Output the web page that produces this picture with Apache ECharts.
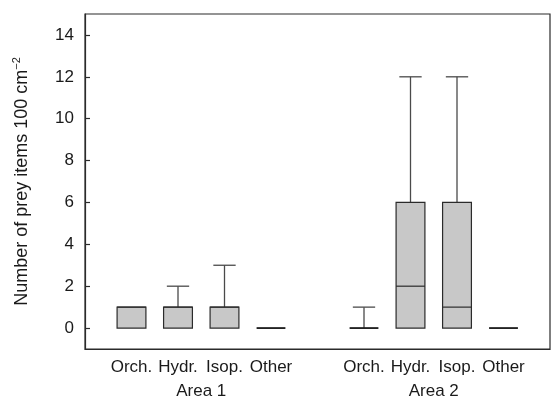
<!DOCTYPE html>
<html>
<head>
<meta charset="utf-8">
<script src="https://cdn.jsdelivr.net/npm/echarts@6/dist/echarts.min.js"></script>
<style>
  html, body { margin: 0; padding: 0; background: #fff; }
  #chart { width: 553px; height: 402px; }
</style>
</head>
<body>
<div id="chart"></div>
<script>
// Prey taxa shown in each sampling area
const taxa = ['Orch.', 'Hydr.', 'Isop.', 'Other'];
const areas = ['Area 1', 'Area 2'];

// Box statistics per taxon: [min, Q1, median, Q3, max]
const area1Stats = [
  [0, 0, 1, 1, 1],
  [0, 0, 1, 1, 2],
  [0, 0, 1, 1, 3],
  [0, 0, 0, 0, 0]
];
const area2Stats = [
  [0, 0, 0, 0, 1],
  [0, 0, 2, 6, 12],
  [0, 0, 1, 6, 12],
  [0, 0, 0, 0, 0]
];

const yTicks = [0, 2, 4, 6, 8, 10, 12, 14];

// Category slots: padding, Area 1 taxa, spacer, Area 2 taxa, padding
const categories = [''].concat(taxa, [''], taxa, ['']);
const areaSlots = ['', areas[0], '', areas[1], ''];

const boxData = [];
area1Stats.forEach((s, i) => boxData.push([1 + i].concat(s)));
area2Stats.forEach((s, i) => boxData.push([6 + i].concat(s)));

const FONT = 'Liberation Sans, Arial, Helvetica, sans-serif';
const STROKE = '#2b2b2b';

function renderBox(params, api) {
  const x = api.value(0);
  const vMin = api.value(1), q1 = api.value(2), med = api.value(3), q3 = api.value(4), vMax = api.value(5);
  const band = api.size([1, 0])[0];
  const boxW = band * 0.62;
  const capW = band * 0.48;
  const pMin = api.coord([x, vMin]);
  const pQ1 = api.coord([x, q1]);
  const pMed = api.coord([x, med]);
  const pQ3 = api.coord([x, q3]);
  const pMax = api.coord([x, vMax]);
  const cx = pMed[0];
  const children = [];
  const lineStyle = { stroke: '#4a4a4a', lineWidth: 1.3 };
  if (vMax > q3) {
    children.push({ type: 'line', shape: { x1: cx, y1: pQ3[1], x2: cx, y2: pMax[1] }, style: lineStyle });
    children.push({ type: 'line', shape: { x1: cx - capW / 2, y1: pMax[1], x2: cx + capW / 2, y2: pMax[1] }, style: lineStyle });
  }
  if (vMin < q1) {
    children.push({ type: 'line', shape: { x1: cx, y1: pQ1[1], x2: cx, y2: pMin[1] }, style: lineStyle });
    children.push({ type: 'line', shape: { x1: cx - capW / 2, y1: pMin[1], x2: cx + capW / 2, y2: pMin[1] }, style: lineStyle });
  }
  if (q3 > q1) {
    children.push({
      type: 'rect',
      shape: { x: cx - boxW / 2, y: pQ3[1], width: boxW, height: pQ1[1] - pQ3[1] },
      style: { fill: '#c8c8c8', stroke: STROKE, lineWidth: 1.2 }
    });
    children.push({ type: 'line', shape: { x1: cx - boxW / 2, y1: pMed[1], x2: cx + boxW / 2, y2: pMed[1] }, style: { stroke: STROKE, lineWidth: 1.2 } });
  } else {
    children.push({ type: 'line', shape: { x1: cx - boxW / 2, y1: pMed[1], x2: cx + boxW / 2, y2: pMed[1] }, style: { stroke: '#1a1a1a', lineWidth: 1.8 } });
  }
  return { type: 'group', children: children };
}

const chart = echarts.init(document.getElementById('chart'), null, { renderer: 'canvas' });
chart.setOption({
  animation: false,
  backgroundColor: '#fff',
  grid: { left: 85, right: 1, top: 14, bottom: 53, show: true, borderColor: STROKE, borderWidth: 1.2, backgroundColor: 'transparent' },
  xAxis: [
    {
      type: 'category',
      data: categories,
      boundaryGap: false,
      axisLine: { show: true, onZero: false, lineStyle: { color: STROKE, width: 1.2 } },
      axisTick: { show: false },
      axisLabel: { interval: 0, margin: 10, color: '#1a1a1a', fontFamily: FONT, fontSize: 17 },
      splitLine: { show: false }
    },
    {
      type: 'category',
      position: 'bottom',
      data: areaSlots,
      boundaryGap: false,
      axisLine: { show: false, onZero: false },
      axisTick: { show: false },
      axisLabel: { interval: 0, margin: 34, color: '#1a1a1a', fontFamily: FONT, fontSize: 17 },
      splitLine: { show: false }
    }
  ],
  yAxis: {
    type: 'value',
    min: -1,
    max: 15,
    axisLine: { show: true, lineStyle: { color: STROKE, width: 1.2 } },
    axisTick: { show: true, inside: true, length: 5, customValues: yTicks, lineStyle: { color: STROKE, width: 1.2 } },
    axisLabel: { margin: 11, customValues: yTicks, color: '#1a1a1a', fontFamily: FONT, fontSize: 17 },
    splitLine: { show: false },
    name: 'Number of prey items 100 cm{sup|\u22122}',
    nameLocation: 'middle',
    nameGap: 52,
    nameRotate: 90,
    nameTextStyle: {
      color: '#1a1a1a', fontFamily: FONT, fontSize: 18, verticalAlign: 'bottom', lineHeight: 22,
      rich: {
        sup: { fontFamily: FONT, fontSize: 11, color: '#1a1a1a', verticalAlign: 'top', lineHeight: 22 }
      }
    }
  },
  series: [{
    type: 'custom',
    xAxisIndex: 0,
    renderItem: renderBox,
    encode: { x: 0, y: [1, 2, 3, 4, 5] },
    data: boxData,
    clip: false
  }]
});
</script>
</body>
</html>
